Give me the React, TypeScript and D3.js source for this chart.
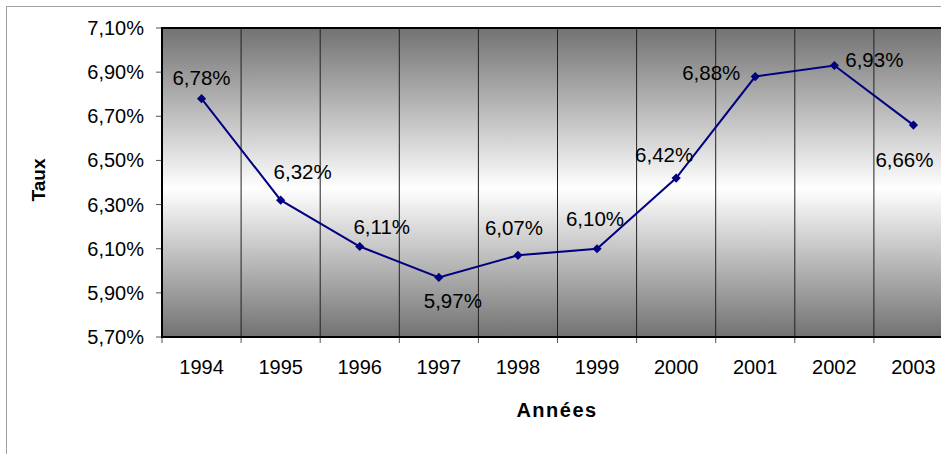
// React
import React from 'react';

// Installed Packages
import * as d3 from 'd3';

// Data
const years = ['1994', '1995', '1996', '1997', '1998', '1999', '2000', '2001', '2002', '2003'];
const taux = [6.78, 6.32, 6.11, 5.97, 6.07, 6.10, 6.42, 6.88, 6.93, 6.66];
const yTicks = [5.7, 5.9, 6.1, 6.3, 6.5, 6.7, 6.9, 7.1];

// label placement around each point (dx, dy) – set by hand like in the original
const labelOffsets: [number, number][] = [
    [0, -21], [22, -28], [22, -20], [14, 23], [-4, -28],
    [-2, -30], [-12, -23], [-44, -4], [40, -6], [-9, 35]
];

const W = 941;
const H = 454;
const margin = { top: 28, left: 162, bottom: 337 };
const plotRight = margin.left + 79.1 * years.length;
const font = '"Liberation Sans", Arial, sans-serif';

const fmt = (v: number) => d3.format('.2f')(v).replace('.', ',') + '%';

export default function App() {
    const x = d3.scaleBand().domain(years).range([margin.left, plotRight]);
    const y = d3.scaleLinear().domain([5.7, 7.1]).range([margin.bottom, margin.top]);

    const line = d3.line<number>()
        .x((_, i) => x(years[i])! + x.bandwidth() / 2)
        .y(d => y(d));

    // Excel-like diamond marker: a square turned by 45°
    const diamond = d3.symbol(d3.symbolSquare, 42)();

    const boundaries = d3.range(years.length + 1).map(i => margin.left + i * x.bandwidth());

    return (
        <svg width={W} height={H} style={{ position: 'absolute', left: 0, top: 0, background: '#fff' }}>
            <defs>
                <linearGradient id="bg" x1="0" y1="0" x2="0" y2="1">
                    <stop offset="0%" stopColor="#727272" />
                    <stop offset="52%" stopColor="#fff" />
                    <stop offset="100%" stopColor="#727272" />
                </linearGradient>
            </defs>

            {/* chart frame */}
            <rect x={6.5} y={6.5} width={W + 10} height={H + 10} fill="#fff" stroke="#a0a0a0" strokeWidth={1} />

            {/* plot area */}
            <rect x={margin.left} y={margin.top} width={plotRight - margin.left}
                height={margin.bottom - margin.top} fill="url(#bg)" />

            {/* vertical grid lines */}
            {boundaries.slice(1, -1).map((bx, i) => (
                <line key={'g' + i} x1={bx} x2={bx} y1={margin.top} y2={margin.bottom} stroke="#222" strokeWidth={1} />
            ))}

            {/* x ticks */}
            {boundaries.map((bx, i) => (
                <line key={'xt' + i} x1={bx} x2={bx} y1={margin.bottom} y2={margin.bottom + 6} stroke="#555" strokeWidth={1} />
            ))}

            {/* y ticks + labels */}
            {yTicks.map(t => (
                <g key={t}>
                    <line x1={margin.left - 6} x2={margin.left} y1={y(t)} y2={y(t)} stroke="#555" strokeWidth={1} />
                    <text x={144} y={y(t)} dy="0.35em" textAnchor="end" fontFamily={font} fontSize={20} fill="#000">
                        {fmt(t)}
                    </text>
                </g>
            ))}

            {/* plot border */}
            <path d={`M${plotRight},${margin.top}H${margin.left}V${margin.bottom}H${plotRight}`}
                fill="none" stroke="#000" strokeWidth={2} />

            {/* x labels */}
            {years.map(yr => (
                <text key={yr} x={x(yr)! + x.bandwidth() / 2} y={367} dy="0.35em" textAnchor="middle"
                    fontFamily={font} fontSize={20} fill="#000">{yr}</text>
            ))}

            {/* series */}
            <path d={line(taux)!} fill="none" stroke="#000080" strokeWidth={2} />
            {taux.map((v, i) => (
                <path key={'m' + i} d={diamond}
                    transform={`translate(${x(years[i])! + x.bandwidth() / 2},${y(v)}) rotate(45)`}
                    fill="#000080" />
            ))}

            {/* data labels */}
            {taux.map((v, i) => (
                <text key={'l' + i} x={x(years[i])! + x.bandwidth() / 2 + labelOffsets[i][0]}
                    y={y(v) + labelOffsets[i][1]} dy="0.35em" textAnchor="middle"
                    fontFamily={font} fontSize={20.5} fill="#000">{fmt(v)}</text>
            ))}

            {/* axis titles */}
            <text x={557} y={410} dy="0.35em" textAnchor="middle" fontFamily={font} fontSize={20}
                fontWeight="bold" letterSpacing={1.5}>Années</text>
            <text transform="translate(38,180) rotate(-90)" dy="0.35em" textAnchor="middle" fontFamily={font}
                fontSize={19} fontWeight="bold">Taux</text>
        </svg>
    );
}
